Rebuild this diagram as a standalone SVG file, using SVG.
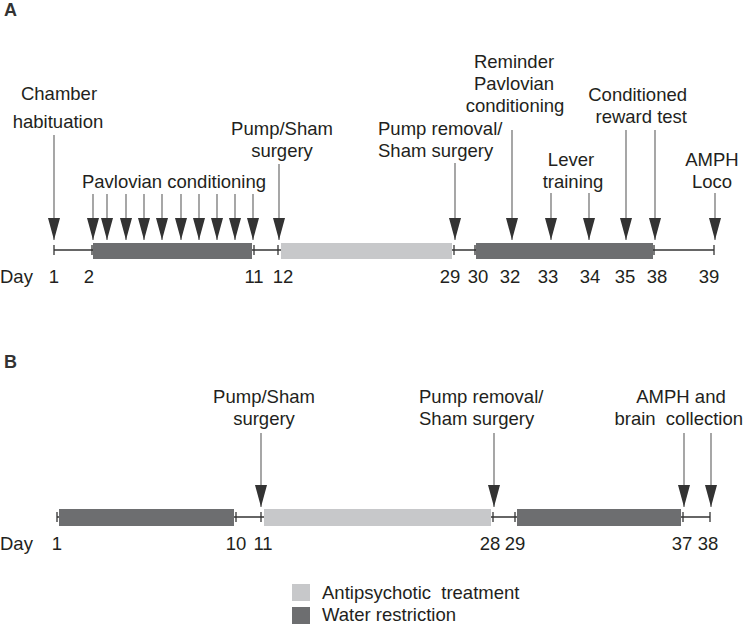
<svg xmlns="http://www.w3.org/2000/svg" width="745" height="625" viewBox="0 0 745 625">
<style>
text{font-family:"Liberation Sans",Arial,sans-serif;font-size:18.5px;fill:#231f20}
.c{text-anchor:middle}
.e{text-anchor:end}
.lbl{font-weight:bold;font-size:18px;fill:#333}
.axis{stroke:#333;stroke-width:1.3;fill:none}
.tick{stroke:#333;stroke-width:1.3}
.dark{fill:#6d6e70}
.light{fill:#c7c8ca}
.arr{stroke:#777;stroke-width:1.3;fill:none;marker-end:url(#ah)}
</style>
<defs>
<marker id="ah" markerUnits="userSpaceOnUse" viewBox="0 -7 23 14" refX="22" refY="0" markerWidth="23" markerHeight="14" orient="auto">
<path d="M0,-6 L22,0 L0,6 z" fill="#333"/>
</marker>
</defs>
<rect width="745" height="625" fill="#fff"/>

<text class="lbl" x="4" y="16">A</text>
<text class="lbl" x="4" y="368">B</text>

<g id="timelineA">
<line class="axis" x1="54" y1="250" x2="714" y2="250"/>
<g class="tick">
<line x1="54" y1="245" x2="54" y2="255"/><line x1="92" y1="245" x2="92" y2="255"/>
<line x1="254" y1="245" x2="254" y2="255"/><line x1="278" y1="245" x2="278" y2="255"/>
<line x1="454" y1="245" x2="454" y2="255"/><line x1="475" y1="245" x2="475" y2="255"/>
<line x1="654" y1="245" x2="654" y2="255"/><line x1="714" y1="245" x2="714" y2="255"/>
</g>
<rect id="barA1" class="dark" x="93" y="243" width="159" height="16"/>
<rect id="barA2" class="light" x="281" y="243" width="171" height="16"/>
<rect id="barA3" class="dark" x="476" y="243" width="177" height="16"/>
<text x="0" y="283">Day</text>
<text class="c" x="54" y="283">1</text>
<text class="c" x="89" y="283">2</text>
<text class="c" x="254" y="283">11</text>
<text class="c" x="283" y="283">12</text>
<text class="c" x="450" y="283">29</text>
<text class="c" x="478" y="283">30</text>
<text class="c" x="510" y="283">32</text>
<text class="c" x="548" y="283">33</text>
<text class="c" x="590" y="283">34</text>
<text class="c" x="625" y="283">35</text>
<text class="c" x="657" y="283">38</text>
<text class="c" x="709" y="283">39</text>
</g>

<g id="timelineB">
<line class="axis" x1="57" y1="517" x2="710" y2="517"/>
<g class="tick">
<line x1="57" y1="512" x2="57" y2="522"/><line x1="236" y1="512" x2="236" y2="522"/>
<line x1="261" y1="512" x2="261" y2="522"/><line x1="493" y1="512" x2="493" y2="522"/>
<line x1="515" y1="512" x2="515" y2="522"/><line x1="683" y1="512" x2="683" y2="522"/>
<line x1="710" y1="512" x2="710" y2="522"/>
</g>
<rect id="barB1" class="dark" x="59" y="509" width="175" height="17"/>
<rect id="barB2" class="light" x="264" y="509" width="227" height="17"/>
<rect id="barB3" class="dark" x="517" y="509" width="164" height="17"/>
<text x="0" y="550">Day</text>
<text class="c" x="57" y="550">1</text>
<text class="c" x="236" y="550">10</text>
<text class="c" x="263" y="550">11</text>
<text class="c" x="490" y="550">28</text>
<text class="c" x="515" y="550">29</text>
<text class="c" x="682" y="550">37</text>
<text class="c" x="708" y="550">38</text>
</g>

<g id="connectors">
<line class="arr" x1="54" y1="135" x2="54" y2="240"/>
<line class="arr" x1="93" y1="194" x2="93" y2="240"/>
<line class="arr" x1="107" y1="194" x2="107" y2="240"/>
<line class="arr" x1="126" y1="194" x2="126" y2="240"/>
<line class="arr" x1="144" y1="194" x2="144" y2="240"/>
<line class="arr" x1="162" y1="194" x2="162" y2="240"/>
<line class="arr" x1="181" y1="194" x2="181" y2="240"/>
<line class="arr" x1="199" y1="194" x2="199" y2="240"/>
<line class="arr" x1="217" y1="194" x2="217" y2="240"/>
<line class="arr" x1="235" y1="194" x2="235" y2="240"/>
<line class="arr" x1="253" y1="194" x2="253" y2="240"/>
<line class="arr" x1="279" y1="164" x2="279" y2="240"/>
<line class="arr" x1="455" y1="163" x2="455" y2="240"/>
<line class="arr" x1="512" y1="130" x2="512" y2="240"/>
<line class="arr" x1="551" y1="193" x2="551" y2="240"/>
<line class="arr" x1="589" y1="193" x2="589" y2="240"/>
<line class="arr" x1="626" y1="130" x2="626" y2="240"/>
<line class="arr" x1="655" y1="130" x2="655" y2="240"/>
<line class="arr" x1="715" y1="193" x2="715" y2="240"/>
<line class="arr" x1="261" y1="433" x2="261" y2="507"/>
<line class="arr" x1="494" y1="433" x2="494" y2="507"/>
<line class="arr" x1="684" y1="433" x2="684" y2="507"/>
<line class="arr" x1="711" y1="433" x2="711" y2="507"/>
</g>

<g id="nodeChamber"><text class="c" x="59" y="100">Chamber</text><text class="c" x="58" y="128">habituation</text></g>
<g id="nodePavlov"><text class="c" x="174" y="188">Pavlovian conditioning</text></g>
<g id="nodePumpA"><text class="c" x="282" y="135">Pump/Sham</text><text class="c" x="282" y="157">surgery</text></g>
<g id="nodeRemovalA"><text x="378" y="135">Pump removal/</text><text x="378" y="157">Sham surgery</text></g>
<g id="nodeReminder"><text class="c" x="514" y="68">Reminder</text><text class="c" x="514" y="90">Pavlovian</text><text class="c" x="515" y="112">conditioning</text></g>
<g id="nodeLever"><text class="c" x="571" y="166">Lever</text><text class="c" x="573" y="188">training</text></g>
<g id="nodeCRT"><text class="e" x="687" y="101">Conditioned</text><text class="e" x="687" y="123">reward test</text></g>
<g id="nodeAMPHA"><text class="c" x="712" y="166">AMPH</text><text class="c" x="712" y="188">Loco</text></g>

<g id="nodePumpB"><text class="c" x="264" y="403">Pump/Sham</text><text class="c" x="264" y="425">surgery</text></g>
<g id="nodeRemovalB"><text x="419" y="403">Pump removal/</text><text x="419" y="425">Sham surgery</text></g>
<g id="nodeAMPHB"><text class="c" x="681" y="403">AMPH and</text><text class="e" x="743" y="425" xml:space="preserve">brain  collection</text></g>

<g id="legend">
<rect class="light" x="292" y="584" width="18" height="17"/>
<rect class="dark" x="292" y="607" width="18" height="17"/>
<text x="322" y="599" xml:space="preserve">Antipsychotic  treatment</text>
<text x="322" y="621">Water restriction</text>
</g>
</svg>
